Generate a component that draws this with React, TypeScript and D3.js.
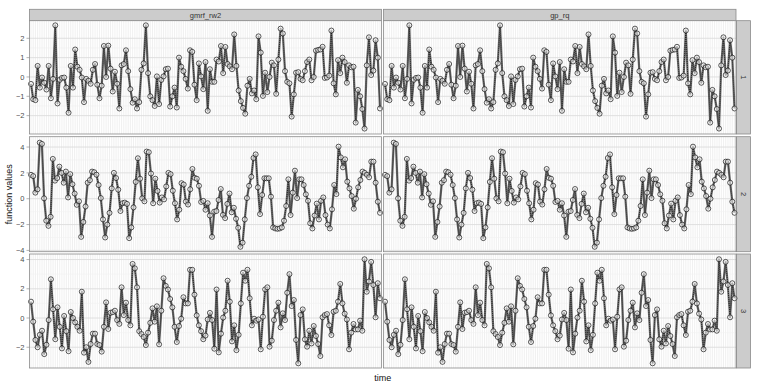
import React from "react";
import * as d3 from "d3";

// observed function values, one array per facet row (shared by both columns)
const row1Values = [
  -0.36, -1.15, -1.2, 0.57, -0.55, -0.03, -0.3, -0.65, 0.57, -1.1, -0.1, 2.67, -1.37, -0.15, -0.05, -0.03, -0.55, -1.85,
  0.57, -0.55, 1.42, 0.53, 0.37, -0.03, -1.3, -0.1, -0.2, -0.35, 0.37, 0.67, -0.4, -1.1, -0.45, 1.6, 0, 1.62, 0.43, -0.75,
  0.27, -0.35, -1.63, 0.6, 0.67, 1.38, 0.3, -0.63, -1.33, -1.15, -1.63, -1.3, 0.37, 0.7, 2.67, 0.2, -1.0, -1.2, -1.5, 0.03,
  -1.4, -0.15, 0.03, 0.4, 0.43, -1.53, -1.0, -0.55, -1.58, 1.0, 0.53, 0.3, -0.1, -0.6, 1.38, 1.3, -0.4, -1.2, 0.7, 0.03,
  -0.63, 0.77, -1.75, 0.4, -0.25, -0.25, 0.9, 0.8, 1.6, 0.2, 1.55, 0.67, 0.55, 0.4, 2.2, 0.57, -0.7, -1.25, -1.6, -1.9,
  -0.45, -0.1, -0.85, -0.7, -1.15, 2.1, 1.26, -0.98, 0.22, -0.78, 0, 0.74, 0.6, -0.87, 0.9, 2.5, 2.25, 0.3, -0.25, -0.33,
  -2.05, -0.9, 0.22, 0.25, -0.1, -0.17, 0.3, 0.77, 0.9, -0.17, 0, 1.36, 1.4, 1.42, 1.56, -0.05, -0.03, 0.07, 2.4, -0.33,
  -0.9, 0.87, 0.2, 1.0, 0.77, -0.3, 0.6, 0.5, 0.53, -2.36, -0.67, -1.0, -1.66, -2.67, 0.6, 2.05, 0.1, 0.33, 1.9, 1.0, -1.63,
];
const row2Values = [
  1.85, 1.75, 0.47, 0.73, 4.34, 4.24, 0.03, -1.7, -2.1, -1.4, 3.08, 1.4, 1.6, 2.48, 2.0, 1.24, 2.1, 0.1, 1.9, 1.12, 0.4,
  -0.47, -0.2, -2.95, -1.8, -0.6, 1.24, 1.44, 2.1, 2.05, 1.86, 1.06, 0.05, -1.6, -3.0, -2.0, -1.1, 0.8, 2.0, 1.6, 0.7,
  -0.95, -0.35, -0.3, -0.4, -3.05, -2.22, -0.67, 1.3, 3.13, 1.55, 0.03, -0.2, 3.65, 3.6, 1.95, -0.35, 1.55, 0.6, -0.3, 0.1,
  -0.05, 0.95, 2.0, 1.9, 0.62, -0.35, -1.6, -0.85, 1.2, 1.1, -0.22, -0.45, 0.73, 2.3, 1.62, 1.55, 1.0, -0.25, -0.17, -0.85,
  -0.35, -1.3, -2.95, -1.0, -0.95, -0.1, 0.75, -1.25, -1.5, -0.4, 0.4, -1.05, -0.7, -1.55, -2.25, -3.72, -3.4, -1.6, 0.05,
  1.0, 1.7, 3.15, 3.43, 0.88, -1.19, 0.29, 1.58, 1.58, 1.58, 0.16, -2.22, -2.3, -2.33, -2.3, -2.22, -1.7, -0.56, 1.5,
  -1.26, 0.47, 2.17, 0.05, 1.5, 1.5, 1.06, 0.34, -0.16, -1.9, -2.3, -1.3, -0.38, -1.6, -0.16, 0.1, -1.27, -2.0, -2.3,
  -0.82, 1.06, 0.36, 4.03, 3.2, 2.43, 3.05, 1.32, 0.8, 0.21, -0.77, 0.0, 0.88, 1.45, 2.1, 2.0, 1.85, 1.66, 2.87, 2.87,
  1.24, -0.23, -1.09,
];
const row3Values = [
  1.12, -0.25, -1.5, -2.0, -1.15, -0.87, -2.47, -1.83, -0.14, 2.65, 0.6, -1.45, 0.73, -0.6, -2.08, 0.14, -0.9, -2.27,
  0.41, 0, -0.3, -0.6, -0.87, 1.8, -2.37, -2.0, -3.0, -1.78, -1.07, -1.07, -1.78, -1.85, -2.3, -0.6, 1.07, -0.75, 0.36,
  0.4, 0.5, -0.14, -0.4, 2.1, 0.2, 1.05, -0.14, -0.5, 3.7, 3.4, 2.1, -0.9, -1.1, -1.3, -1.85, -1.0, -0.33, 0.66, -0.25,
  0.8, -1.8, 0.5, 2.72, 2.2, 1.95, 1.3, 0.73, -0.6, -1.64, -0.55, -0.05, 1.42, 1.0, 1.0, 3.3, 3.3, 1.6, 0.18, -0.5, -0.9,
  -1.45, -1.2, -0.1, 0.35, -0.14, -2.1, 1.95, -2.35, -1.07, 0.03, 0.5, 2.55, 1.12, -1.6, -0.5, -2.2, -1.15, 1.0, 3.1,
  2.55, 3.3, 1.35, -0.5, -0.05, -0.18, -0.1, -2.14, 0.09, 1.96, 2.1, -1.96, -1.55, -0.14, 0.5, 1.05, -0.64, 0.32, -0.14,
  1.73, 3.0, 0.82, 1.23, -1.5, -3.1, 0.2, 0.59, -1.46, -1.96, -0.87, -1.74, -0.55, -1.23, -1.78, -2.6, 0.05, 0.2, 0.27,
  -0.5, -1.16, 0.43, 0.5, 1.12, 2.33, 1.0, 0.3, -0.1, -2.14, -1.0, -0.41, -0.78, -0.78, -0.18, -0.87, 4.02, 1.8, 2.5,
  3.84, 2.26, 0.05, 2.38, 1.35,
];

const models = ["gmrf_rw2", "gp_rq"];
const rowLabels = ["1", "2", "3"];
const rowTicks = [
  [-2, -1, 0, 1, 2],
  [-4, -2, 0, 2, 4],
  [-2, 0, 2, 4],
];
const rowDomains = [
  [-2.95, 2.91],
  [-4.1, 4.8],
  [-3.42, 4.38],
];
const rows = [row1Values, row2Values, row3Values];

// layout
const W = 761;
const H = 388;
const colRanges = [
  [29.5, 381.5],
  [383.5, 736],
];
const rowRanges = [
  [20.7, 134],
  [136.7, 251.7],
  [254, 368],
];
const stripTop = 9.3;
const stripRight = [736.5, 750.5];
const font = "'Liberation Sans', Arial, Helvetica, sans-serif";

const Panel = ({ values, col, row }) => {
  const [x0, x1] = colRanges[col];
  const [y0, y1] = rowRanges[row];
  const x = d3.scaleLinear().domain([0, values.length - 1]).range([x0 + 1.5, x1 - 1.5]);
  const y = d3.scaleLinear().domain(rowDomains[row]).range([y1, y0]);
  const ticks = rowTicks[row];
  const minor = ticks.slice(1).map((t, i) => (t + ticks[i]) / 2);

  const line = d3
    .line()
    .x((d, i) => x(i))
    .y((d) => y(d));

  return (
    <g>
      <rect x={x0} y={y0} width={x1 - x0} height={y1 - y0} fill="#ffffff" />
      {values.map((d, i) => (
        <line key={"v" + i} x1={x(i)} x2={x(i)} y1={y0} y2={y1} stroke="#e6e6e6" strokeWidth={0.6} />
      ))}
      {minor.map((t) => (
        <line key={"m" + t} x1={x0} x2={x1} y1={y(t)} y2={y(t)} stroke="#f2f2f2" strokeWidth={0.6} />
      ))}
      {ticks.map((t) => (
        <line key={"t" + t} x1={x0} x2={x1} y1={y(t)} y2={y(t)} stroke="#dcdcdc" strokeWidth={0.9} />
      ))}
      <path d={line(values)} fill="none" stroke="#5a5a5a" strokeWidth={2.2} strokeOpacity={0.9} strokeLinejoin="round" />
      <path d={line(values)} fill="none" stroke="#111111" strokeWidth={0.8} strokeDasharray="1 1" />
      {values.map((d, i) => (
        <circle key={"c" + i} cx={x(i)} cy={y(d)} r={2.5} fill="#ffffff" fillOpacity={0.55} stroke="#111111" strokeWidth={0.7} />
      ))}
      <rect x={x0} y={y0} width={x1 - x0} height={y1 - y0} fill="none" stroke="#8a8a8a" strokeWidth={0.8} />
      {col === 0 &&
        ticks.map((t) => (
          <g key={"l" + t}>
            <line x1={x0 - 3} x2={x0} y1={y(t)} y2={y(t)} stroke="#7f7f7f" strokeWidth={0.6} />
            <text x={x0 - 5} y={y(t)} dy="0.35em" textAnchor="end" fontSize={7.5} fill="#4d4d4d" fontFamily={font}>
              {t < 0 ? "\u2212" + Math.abs(t) : t}
            </text>
          </g>
        ))}
    </g>
  );
};

export default function App() {
  return (
    <svg width={W} height={H} style={{ position: "absolute", left: 0, top: 0, background: "#fff" }}>
      {models.map((m, c) => {
        const [x0, x1] = colRanges[c];
        return (
          <g key={m}>
            <rect x={x0} y={stripTop} width={x1 - x0} height={rowRanges[0][0] - stripTop} fill="#cccccc" stroke="#8a8a8a" strokeWidth={0.8} />
            <text x={(x0 + x1) / 2} y={(stripTop + rowRanges[0][0]) / 2} dy="0.35em" textAnchor="middle" fontSize={7.5} fill="#333" fontFamily={font}>
              {m}
            </text>
          </g>
        );
      })}
      {rowLabels.map((r, ri) => {
        const [y0, y1] = rowRanges[ri];
        const cx = (stripRight[0] + stripRight[1]) / 2;
        const cy = (y0 + y1) / 2;
        return (
          <g key={r}>
            <rect x={stripRight[0]} y={y0} width={stripRight[1] - stripRight[0]} height={y1 - y0} fill="#cccccc" stroke="#8a8a8a" strokeWidth={0.8} />
            <text x={cx} y={cy} dy="0.35em" textAnchor="middle" fontSize={7.5} fill="#333" fontFamily={font} transform={`rotate(90 ${cx} ${cy})`}>
              {r}
            </text>
          </g>
        );
      })}
      {rows.map((vals, ri) =>
        models.map((m, c) => <Panel key={m + ri} values={vals} col={c} row={ri} />)
      )}
      <text x={(colRanges[0][0] + colRanges[1][1]) / 2} y={381} textAnchor="middle" fontSize={9} fill="#111" fontFamily={font}>
        time
      </text>
      <text x={12} y={(rowRanges[0][0] + rowRanges[2][1]) / 2} textAnchor="middle" fontSize={9} fill="#111" fontFamily={font} transform={`rotate(-90 12 ${(rowRanges[0][0] + rowRanges[2][1]) / 2})`}>
        function values
      </text>
    </svg>
  );
}
